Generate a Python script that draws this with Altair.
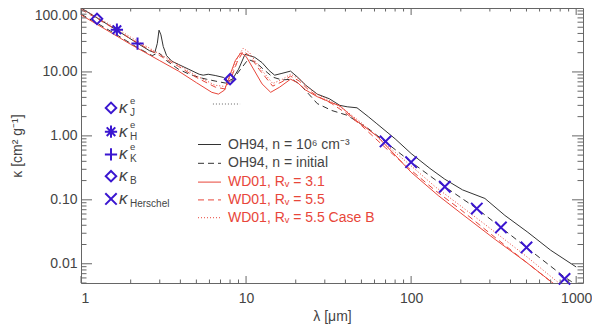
import altair as alt
import pandas as pd

# ---------------- data ----------------
oh94_dense_lam = [1, 1.25, 1.65, 2.2, 2.6, 2.8, 2.9, 2.97, 3.05, 3.15, 3.3, 3.55, 3.9, 4.5, 5.2, 5.5, 5.9, 6.5, 7.3, 7.8, 8.3, 9.0, 9.85, 10.5, 11.3, 12.5, 13.8, 14.9, 16.5, 18.6, 20.5, 23, 27, 32, 37, 41, 47, 55, 62, 80, 100, 130, 160, 205, 280, 370, 510, 700, 1000]
oh94_dense_kap = [100, 70, 45, 28, 21.5, 20, 28, 45, 38, 25, 18, 14.7, 13.1, 11, 9.2, 8.9, 9.2, 8.8, 8.2, 7.2, 7.8, 11, 18.8, 18, 16.9, 14, 10.5, 8.9, 9.5, 10.3, 8.3, 6.2, 4.5, 3.8, 3.0, 2.85, 2.75, 2.0, 1.55, 0.9, 0.53, 0.31, 0.21, 0.143, 0.105, 0.057, 0.031, 0.0163, 0.0089]

oh94_init_lam = [1, 1.25, 1.65, 2.2, 2.7, 2.95, 3.1, 3.3, 3.9, 4.5, 5.2, 5.75, 6.5, 7.5, 8.2, 9.0, 10.3, 11.5, 12.5, 14.5, 16.5, 19, 21, 24, 27, 33, 41, 55, 70, 100, 160, 250, 350, 500, 850, 1000]
oh94_init_kap = [80, 58, 38, 24, 18, 20, 18, 15, 11, 9.3, 8.2, 7.7, 7.2, 6.7, 7.2, 10, 15.7, 14, 11.5, 8.3, 7.5, 7.7, 6.5, 4.5, 3.2, 2.5, 2.1, 1.3, 0.8, 0.39, 0.16, 0.073, 0.037, 0.018, 0.0062, 0.0047]

wd31_lam = [1, 1.5, 2, 3, 3.9, 5, 6.2, 6.8, 7.4, 8.0, 8.6, 9.3, 10, 11, 12.5, 14.1, 16, 18.6, 20.5, 23, 27, 33, 37, 47, 62, 80, 100, 147, 200, 323, 500, 708, 1000]
wd31_kap = [78, 42, 27, 15, 10.3, 6.8, 4.8, 4.5, 5.2, 9, 15, 20, 17.5, 11.5, 6.5, 4.8, 5.8, 7.7, 6.8, 5.2, 4.1, 3.3, 2.96, 1.7, 1.0, 0.5, 0.27, 0.115, 0.062, 0.024, 0.0105, 0.0052, 0.0027]

wd55_lam = [1, 1.5, 2, 3, 3.9, 5, 6.5, 7.5, 8.2, 8.8, 9.6, 10.5, 12, 14.5, 16.5, 18.6, 21, 24, 27, 33, 40, 50, 70, 100, 140, 200, 300, 500, 750, 1000]
wd55_kap = [95, 52, 33, 18, 12.2, 8.2, 5.8, 5.4, 8.5, 14, 21, 18, 11, 6.0, 7.0, 8.6, 7.2, 5.2, 4.2, 3.2, 2.3, 1.45, 0.65, 0.29, 0.14, 0.07, 0.03, 0.0105, 0.0046, 0.0026]

wd55b_lam = wd55_lam
wd55b_kap = [100, 55, 35, 19, 13, 8.7, 6.2, 5.9, 9.5, 16, 23.5, 20, 12, 6.6, 7.6, 9.2, 7.8, 5.6, 4.5, 3.4, 2.5, 1.6, 0.74, 0.34, 0.16, 0.08, 0.036, 0.013, 0.0055, 0.0031]

seg_lam = [6.3, 9.2]
seg_kap = [3.15, 3.15]

kJ_lam, kJ_kap = [1.25], [67.6]
kH_lam, kH_kap = [1.65], [45.7]
kK_lam, kK_kap = [2.2], [27.8]
kB_lam, kB_kap = [8.0], [7.7]
kHer_lam = [70, 100, 160, 250, 350, 500, 850]
kHer_kap = [0.82, 0.388, 0.16, 0.073, 0.037, 0.018, 0.0058]

x_major = [1, 10, 100, 1000]
x_minor = [2, 3, 4, 5, 6, 7, 8, 9, 20, 30, 40, 50, 60, 70, 80, 90, 200, 300, 400, 500, 600, 700, 800, 900]
y_major = [0.01, 0.1, 1, 10, 100]
y_minor = [0.005, 0.006, 0.007, 0.008, 0.009, 0.02, 0.03, 0.04, 0.05, 0.06, 0.07, 0.08, 0.09,
           0.2, 0.3, 0.4, 0.5, 0.6, 0.7, 0.8, 0.9, 2, 3, 4, 5, 6, 7, 8, 9, 20, 30, 40, 50, 60, 70, 80, 90]

# ---------------- layout / style ----------------
W, H = 502, 275
FONT = "Liberation Sans"
GRAY = "#444444"
BLACK = "#333333"
RED = "#e8463a"
BLUE = "#3a16d0"

xs = alt.Scale(type="log", domain=[1, 1100], nice=False)
ys = alt.Scale(type="log", domain=[0.005, 100], nice=False)

X_AX = alt.Axis(
    values=x_major, format="d", ticks=False, domain=False, grid=False,
    labelFont=FONT, labelFontSize=14, labelColor=GRAY, labelPadding=8,
    title="λ [μm]", titleFont=FONT, titleFontSize=14, titleFontWeight="normal",
    titleColor=GRAY, titlePadding=4)
Y_AX = alt.Axis(
    values=y_major, format=".2f", ticks=False, domain=False, grid=False,
    labelFont=FONT, labelFontSize=14, labelColor=GRAY, labelPadding=4, labelFlush=True,
    title="κ [cm² g⁻¹]", titleFont=FONT, titleFontSize=14, titleFontWeight="normal",
    titleColor=GRAY, titlePadding=10)


def XE(field="lam"):
    return alt.X(f"{field}:Q", scale=xs, axis=X_AX, title="λ [μm]")


def YE(field="kap"):
    return alt.Y(f"{field}:Q", scale=ys, axis=Y_AX, title="κ [cm² g⁻¹]")


def ry(y_ref):
    return (y_ref - 3) * H / 278.0


def rx(x_ref):
    return x_ref - 81


layers = []


def curve(lam, kap, color, dash=None, width=1.0):
    df = pd.DataFrame({"lam": lam, "kap": kap})
    kw = dict(color=color, strokeWidth=width, clip=True)
    if dash is not None:
        kw["strokeDash"] = dash
    return alt.Chart(df).mark_line(**kw).encode(
        x=XE(), y=YE(), order=alt.Order("lam:Q"),
    )


layers.append(curve(oh94_dense_lam, oh94_dense_kap, BLACK))
layers.append(curve(oh94_init_lam, oh94_init_kap, BLACK, [6, 4]))
layers.append(curve(wd31_lam, wd31_kap, RED))
layers.append(curve(wd55_lam, wd55_kap, RED, [6, 4]))
layers.append(curve(wd55b_lam, wd55b_kap, RED, [1, 2]))
layers.append(curve(seg_lam, seg_kap, "#666666", [1, 2]))

SH_DIAMOND = "diamond"
SH_ASTER = "M-1,0L1,0M0,-1L0,1M-0.7,-0.7L0.7,0.7M-0.7,0.7L0.7,-0.7"
SH_PLUS = "M-1,0L1,0M0,-1L0,1"
SH_X = "M-1,-1L1,1M-1,1L1,-1"


def markers(lam, kap, shape, size):
    df = pd.DataFrame({"lam": lam, "kap": kap})
    return alt.Chart(df).mark_point(shape=shape, size=size, filled=False, color=BLUE,
                                    strokeWidth=2, opacity=1).encode(x=XE(), y=YE())


layers.append(markers(kJ_lam, kJ_kap, SH_DIAMOND, 110))
layers.append(markers(kH_lam, kH_kap, SH_ASTER, 150))
layers.append(markers(kK_lam, kK_kap, SH_PLUS, 150))
layers.append(markers(kB_lam, kB_kap, SH_DIAMOND, 110))
layers.append(markers(kHer_lam, kHer_kap, SH_X, 130))


# ---------------- inward ticks on all four sides ----------------
def xticks(vals, length):
    df = pd.DataFrame({"lam": vals})
    base = alt.Chart(df).mark_rule(color="#666666", strokeWidth=1)
    return [
        base.encode(x=XE(), y=alt.value(H), y2=alt.value(H - length)),
        base.encode(x=XE(), y=alt.value(0), y2=alt.value(length)),
    ]


def yticks(vals, length):
    df = pd.DataFrame({"kap": vals})
    base = alt.Chart(df).mark_rule(color="#666666", strokeWidth=1)
    return [
        base.encode(y=YE(), x=alt.value(0), x2=alt.value(length)),
        base.encode(y=YE(), x=alt.value(W), x2=alt.value(W - length)),
    ]


layers += xticks(x_major, 7)
layers += xticks(x_minor, 3.5)
layers += yticks(y_major, 11)
layers += yticks(y_minor, 5.5)


# ---------------- legends ----------------
def text(t, x, y, color, size=13, style="normal", align="left"):
    df = pd.DataFrame({"t": [t]})
    return alt.Chart(df).mark_text(font=FONT, fontSize=size, color=color, fontStyle=style,
                                   align=align, baseline="middle").encode(
        x=alt.value(x), y=alt.value(y), text="t:N")


def legend_marker(shape, size, x, y):
    df = pd.DataFrame({"t": ["m"]})
    return alt.Chart(df).mark_point(shape=shape, size=size, filled=False, color=BLUE,
                                    strokeWidth=2, opacity=1).encode(
        x=alt.value(x), y=alt.value(y))


marker_rows = [
    (SH_DIAMOND, 110, 104, "e", "J"),
    (SH_ASTER, 150, 128, "e", "H"),
    (SH_PLUS, 150, 151, "e", "K"),
    (SH_DIAMOND, 110, 173, "", "B"),
    (SH_X, 130, 196, "", "Herschel"),
]
for shape, size, yr, sup, sub in marker_rows:
    layers.append(legend_marker(shape, size, rx(111), ry(yr)))
    layers.append(text("κ", rx(119), ry(yr), GRAY, size=17, style="italic"))
    if sup:
        layers.append(text(sup, rx(130), ry(yr - 7), GRAY, size=9.5))
    layers.append(text(sub, rx(130), ry(yr + 5), GRAY, size=10))

line_rows = [
    (BLACK, None, 141, "OH94,  n  =  10⁶  cm⁻³", GRAY),
    (BLACK, [6, 4], 160, "OH94,  n  =  initial", GRAY),
    (RED, None, 179, "WD01,  Rᵥ  =  3.1", RED),
    (RED, [6, 4], 197, "WD01,  Rᵥ  =  5.5", RED),
    (RED, [1, 2], 215, "WD01,  Rᵥ  =  5.5 Case B", RED),
]
for color, dash, yr, label, tcolor in line_rows:
    df = pd.DataFrame({"t": ["l"]})
    kw = dict(color=color, strokeWidth=1)
    if dash is not None:
        kw["strokeDash"] = dash
    layers.append(alt.Chart(df).mark_rule(**kw).encode(
        x=alt.value(rx(198)), x2=alt.value(rx(221)), y=alt.value(ry(yr))))
    layers.append(text(label, rx(228), ry(yr), tcolor, size=14))

chart = alt.layer(*layers).properties(
    width=W, height=H,
    autosize=alt.AutoSizeParams(type="none"),
    padding={"left": 73, "top": 0, "right": 9, "bottom": 42},
).configure_view(stroke="#666666", strokeWidth=1)

chart.save("out.html", embed_options={"renderer": "svg", "actions": False})
